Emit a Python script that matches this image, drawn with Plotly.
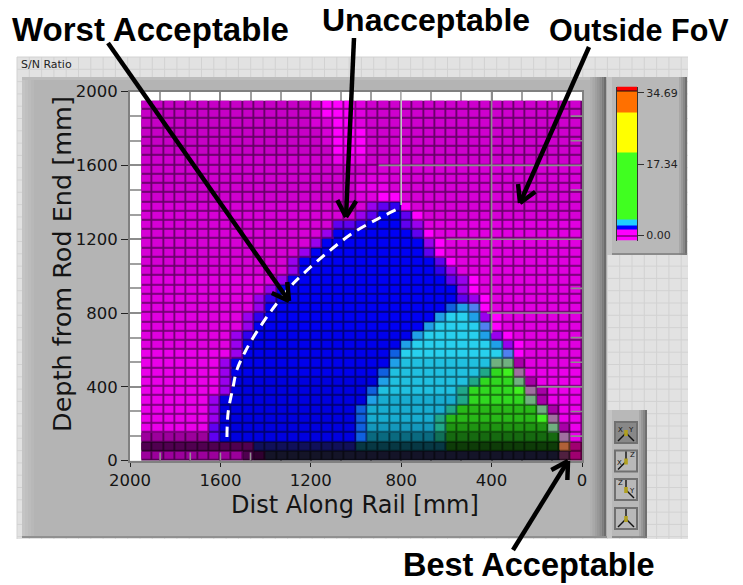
import math
import plotly.graph_objects as go

W, H = 743, 585
# ---------- data ----------
X_TICKS = [2000, 1600, 1200, 800, 400, 0]
Y_TICKS = [2000, 1600, 1200, 800, 400, 0]
MINOR = [133.3, 266.7, 533.3, 666.7, 933.3, 1066.7, 1333.3, 1466.7, 1733.3, 1866.7]
COLUMN_CENTERS = [1925 - 50 * k for k in range(39)]
ROW_CENTERS = [1925 - 50 * r for r in range(39)]

# cell classes on the S/N map, one colour each
PALETTE = {
    "a": "#c600c6", "b": "#ce00ce", "c": "#d600d6", "d": "#e000e0", "e": "#ea00ea", "f": "#ff00ff",
    "p": "#9a00ee", "i": "#6000f0", "j": "#3000f0",
    "B": "#0000f4", "C": "#0000ec", "D": "#0000e0",
    "m": "#1060e0", "z": "#20a0e8", "w": "#5080f0",
    "n": "#28d0ee", "o": "#20c0e0", "q": "#18acd0", "u": "#1498bc", "k": "#0a6a80", "g": "#073844",
    "t": "#20a888", "T": "#107058",
    "G": "#40f020", "H": "#30d820", "I": "#28b818", "J": "#1f9412", "K": "#166a10", "L": "#0e3c08",
    "x": "#70b080", "y": "#a070a0", "v": "#a800a8",
    "N": "#141428", "O": "#300030", "Q": "#500050", "R": "#9c009c", "S": "#b06038", "U": "#a00070",
    "V": "#502040", "W": "#10105a",
}
# rows top to bottom, as class + run length
ROWS = [
    "a15 c1 f3 d1 b19", "a15 c1 f3 d1 b19", "a15 c2 f2 d1 b19", "a16 c1 f3 b19", "a16 c1 f3 b19",
    "a17 f3 b19", "b17 e3 b19", "b20 c19", "b19 d3 c17", "b19 e3 c17", "b19 d2 f2 c16",
    "c20 p1 i1 j1 f1 c15", "c19 p1 i1 B2 i1 f1 c14", "c17 i2 j1 B3 i1 p1 d14",
    "c16 p1 B7 i1 f1 d13", "c15 p1 B9 p1 f1 d12", "c14 p1 B10 i1 f1 d12",
    "c13 p1 B12 i1 f1 d11", "c13 p1 B12 j1 p1 d11", "d12 p1 B14 i1 p1 f1 d9",
    "d11 p1 B16 p1 f1 d9", "d10 p1 j1 B16 i1 p1 f1 d8", "d10 p1 B16 m1 z1 w1 f1 d8",
    "d9 p1 j1 B15 z1 n2 z1 p1 f1 d7", "d9 p1 B15 z1 n4 w1 f1 d7",
    "d8 p1 j1 C14 z1 n5 z1 p1 f1 d6", "d8 p1 C14 z1 n7 z1 p1 f1 d5",
    "e8 p1 C13 m1 n9 w1 f1 d5", "e7 p1 C14 z1 o8 x2 v1 d5",
    "e7 p1 C13 m1 o8 t1 H1 G1 y1 e5", "e7 p1 D13 z1 o7 t1 H3 x1 v1 e4",
    "e7 p1 D12 m1 o7 t1 H4 G1 y1 v1 e3", "e6 p1 D13 z1 q7 t1 H5 x1 v1 e3",
    "e6 p1 D12 m1 q7 t1 I7 x1 v1 e2", "e6 p1 D12 m1 q6 t1 I8 G1 y1 e2",
    "e6 i1 D12 m1 u6 t1 J9 x1 v1 e1", "R6 i1 D12 m1 k6 T1 K10 y1 e1",
    "Q10 W9 g8 L10 S1 U1", "R9 Q1 O1 N26 V1 U1",
]
CURVE_X = [1571, 1566, 1544, 1527, 1491, 1456, 1372, 1279, 1248, 1128, 1013, 894, 796]
CURVE_Y = [128, 259, 399, 492, 589, 665, 817, 958, 996, 1126, 1234, 1316, 1375]

BAND_EDGES = [-1.22, -0.25, 0.1, 1.5, 2.45, 3.9, 20.05, 29.8, 34.9, 35.2, 36.2]
BAND_COLORS = ["#ff00ff", "#400040", "#ff00ff", "#0000ff", "#20d0ff", "#40ff20",
               "#ffff00", "#ff7000", "#101010", "#ff0000"]
BAND_TICKS = [0, 17.34, 34.69]
BAND_LABELS = ["0.00", "17.34", "34.69"]

# ---------- helpers ----------
keys = list(PALETTE)
n = len(keys)
z = []
for row in ROWS:
    cells = []
    for run in row.split():
        cells += [keys.index(run[0])] * int(run[1:])
    assert len(cells) == 39, row
    z.append(cells)


def darker(c, f):
    r, g, b = int(c[1:3], 16), int(c[3:5], 16), int(c[5:7], 16)
    return "#%02x%02x%02x" % (int(r * f), int(g * f), int(b * f))


def scale(colors):
    m = len(colors)
    out = []
    for i, c in enumerate(colors):
        out += [[i / m, c], [(i + 1) / m, c]]
    return out


px = lambda v: v / W
py = lambda v: 1 - v / H
shapes = []


def rect(x0, y0, x1, y1, fill, line=None, layer="below"):
    shapes.append(dict(type="rect", xref="paper", yref="paper", x0=px(x0), x1=px(x1), y0=py(y0), y1=py(y1),
                       fillcolor=fill, line=dict(width=1 if line else 0, color=line or fill), layer=layer))


def seg(x0, y0, x1, y1, color, width=1, layer="below"):
    shapes.append(dict(type="line", xref="paper", yref="paper", x0=px(x0), x1=px(x1), y0=py(y0), y1=py(y1),
                       line=dict(color=color, width=width), layer=layer))


def arrow(x0, y0, x1, y1, width=4.5, head=19):
    seg(x0, y0, x1, y1, "#000000", width, "above")
    a = math.atan2(y1 - y0, x1 - x0)
    for s in (-1, 1):
        seg(x1, y1, x1 - head * math.cos(a + s * 0.52), y1 - head * math.sin(a + s * 0.52), "#000000", width, "above")


# ---------- LabVIEW panel decoration ----------
rect(17, 57, 688, 539, "#e2e2e2")
v = 17.0
while v < 688:
    seg(v, 57, v, 539, "#d2d2d2", 1)
    v += 12.3
v = 57.0
while v < 539:
    seg(17, v, 688, v, "#d2d2d2", 1)
    v += 12.3

rect(22, 77, 607, 538, "#b4b4b4")
for i, c in enumerate(["#c4c4c4", "#c0c0c0", "#bcbcbc", "#b8b8b8"]):
    rect(22 + i * 3, 77, 25 + i * 3, 538, c)
rect(22, 77, 607, 80, "#bcbcbc")
for i, c in enumerate(["#b0b0b0", "#a8a8a8", "#a0a0a0", "#989898", "#8c8c8c", "#7c7c7c", "#6c6c6c"]):
    rect(590 + i * 2.3, 77, 592.3 + i * 2.3, 538, c)
seg(22, 537, 607, 537, "#909090", 2)

# colour ramp and orientation panels
for (yy0, yy1) in [(77, 255), (410, 538)]:
    xr = 687 if yy0 == 77 else 647
    rect(607, yy0, xr, yy1, "#b8b8b8")
    rect(607, yy0, 612, yy1, "#c4c4c4")
    for i, c in enumerate(["#a8a8a8", "#989898", "#888888", "#707070"]):
        rect(xr - 8 + i * 2, yy0, xr - 6 + i * 2, yy1, c)
    seg(612, yy1 - 1, xr, yy1 - 1, "#7c7c7c", 1.5)

# orientation buttons: body, then arrows towards up / lower left / lower right
BUTTON_TOPS = [421, 449.5, 478, 507]
BUTTON_ARROWS = [("L", "R"), ("U", "L"), ("U", "R"), ("U", "L", "R")]
BUTTON_LETTERS = [[("X", -6, -3), ("Y", 5, -3)], [("X", -7, 1), ("Z", 6, -7)], [("Z", -6, -7), ("Y", 6, 1)], []]
for i, yb in enumerate(BUTTON_TOPS):
    fill = "#888888" if i == 0 else "#b8b8b8"
    rect(614, yb, 638, yb + 23, "#707070")
    rect(616, yb + 2, 636, yb + 21, fill)
    cx, cy = 626, yb + 12
    for d in BUTTON_ARROWS[i]:
        tx, ty = {"U": (cx, cy - 10), "L": (cx - 8, cy + 8), "R": (cx + 8, cy + 8)}[d]
        seg(cx, cy, tx, ty, "#111111", 1.4)
    rect(cx - 1.8, cy - 3, cx + 1.8, cy + 3, "#b0a020")

# plot area backing
rect(130, 91.5, 582, 460.7, "#ffffff")

# grid cursor lines lying over the cells (data coordinates)
GL = "#8c8c8c"
for x0, y0, x1, y1, c in [(900, 1600, 0, 1600, GL), (600, 1200, 0, 1200, GL), (420, 800, 0, 800, GL),
                          (200, 400, 0, 400, GL), (800, 2000, 800, 1385, "#c4c4c4"), (400, 2000, 400, 690, GL)]:
    shapes.append(dict(type="line", xref="x", yref="y", x0=x0, x1=x1, y0=y0, y1=y1,
                       line=dict(color=c, width=1.6), layer="above"))
for m in MINOR:
    if m in (1066.7, 1333.3):
        continue
    shapes.append(dict(type="line", xref="x", yref="y", x0=50, x1=0, y0=m, y1=m,
                       line=dict(color=GL, width=1.6), layer="above"))
for m in (1866.7, 1733.3, 1600, 1466.7):
    shapes.append(dict(type="line", xref="x", yref="y", x0=m, x1=m, y0=0, y1=45,
                       line=dict(color="#909090", width=1.6), layer="above"))

# call-out arrows
arrow(108, 43, 289, 301)
arrow(354, 38, 346, 217)
arrow(589, 47, 520, 203)
arrow(513, 550, 568, 461)

# ---------- figure ----------
colors = [PALETTE[k] for k in keys]
fig = go.Figure()
fig.add_trace(go.Heatmap(x=COLUMN_CENTERS, y=ROW_CENTERS, z=z, zmin=-0.5, zmax=n - 0.5, showscale=False,
                         colorscale=scale([darker(c, 0.5) for c in colors])))
fig.add_trace(go.Heatmap(x=COLUMN_CENTERS, y=ROW_CENTERS, z=z, zmin=-0.5, zmax=n - 0.5, showscale=False,
                         colorscale=scale(colors), xgap=1.8, ygap=1.8))
fig.add_trace(go.Scatter(x=CURVE_X, y=CURVE_Y, mode="lines", showlegend=False,
                         line=dict(color="#ffffff", width=3, dash="10px,7px", shape="spline")))
m = len(BAND_COLORS)
fig.add_trace(go.Heatmap(x=[0, 1], y=BAND_EDGES, z=[[i] for i in range(m)], zmin=-0.5, zmax=m - 0.5,
                         showscale=False, colorscale=scale(BAND_COLORS), xaxis="x2", yaxis="y2"))

TICK_FONT = dict(family="DejaVu Sans", size=16.5, color="#141414")
fig.update_layout(
    width=W, height=H, margin=dict(l=0, r=0, t=0, b=0, pad=0, autoexpand=False), autosize=False,
    paper_bgcolor="#ffffff", plot_bgcolor="rgba(0,0,0,0)", showlegend=False, shapes=shapes,
    xaxis=dict(domain=[px(130), px(582)], range=[2000, 0], tickmode="array", tickvals=X_TICKS, automargin=False,
               ticks="outside", ticklen=4, tickcolor="#222222", tickfont=TICK_FONT, showgrid=True,
               gridcolor="#8c8c8c", gridwidth=1.5, zeroline=False, showline=True, linecolor="#808080",
               linewidth=2, mirror=True, anchor="y", ticklabelstandoff=-1,
               minor=dict(tickvals=MINOR, showgrid=True, gridcolor="#a0a0a0", gridwidth=1.5)),
    yaxis=dict(domain=[py(460.7), py(91.5)], range=[0, 2000], tickmode="array", tickvals=Y_TICKS, automargin=False,
               ticks="outside", ticklen=7, tickcolor="#222222", tickfont=TICK_FONT, showgrid=True,
               gridcolor="#8c8c8c", gridwidth=1.5, zeroline=False, showline=True, linecolor="#808080",
               linewidth=2, mirror=True, anchor="x",
               minor=dict(tickvals=MINOR, showgrid=True, gridcolor="#a0a0a0", gridwidth=1.5)),
    xaxis2=dict(domain=[px(617), px(637)], range=[0, 1], visible=False, anchor="y2", automargin=False),
    yaxis2=dict(domain=[py(240.5), py(86.5)], range=[BAND_EDGES[0], BAND_EDGES[-1]], side="right", anchor="x2", automargin=False,
                tickmode="array", tickvals=BAND_TICKS, ticktext=BAND_LABELS, ticks="outside", ticklen=6,
                tickcolor="#333333", tickfont=dict(family="DejaVu Sans", size=11, color="#222222"),
                showgrid=False, zeroline=False, showline=True, linecolor="#333333", linewidth=1, mirror=True),
)


def label(text, x, y, size, family="Liberation Sans", anchor="center", color="#000000", angle=0):
    fig.add_annotation(text=text, xref="paper", yref="paper", x=px(x), y=py(y), showarrow=False,
                       xanchor=anchor, yanchor="middle", textangle=angle,
                       font=dict(family=family, size=size, color=color))


label("<b>Worst Acceptable</b>", 150.5, 29, 33)
label("<b>Unacceptable</b>", 425.5, 20, 32)
label("<b>Outside FoV</b>", 639, 30, 30.5)
label("<b>Best Acceptable</b>", 529, 565, 32.5)
label("Dist Along Rail [mm]", 355, 505, 24, "DejaVu Sans", color="#141414")
label("Depth from Rod End [mm]", 62, 264, 25.5, "DejaVu Sans", color="#141414", angle=-90)
label("S/N Ratio", 46, 64, 11, "DejaVu Sans", color="#222222")
for yb, letters in zip(BUTTON_TOPS, BUTTON_LETTERS):
    for ch, dx, dy in letters:
        label(ch, 626 + dx, yb + 12 + dy, 7, "DejaVu Sans", color="#111111")

fig.write_html("out.html", config={"displayModeBar": False},
               post_script="document.body.style.margin='0';document.body.style.overflow='hidden';")
